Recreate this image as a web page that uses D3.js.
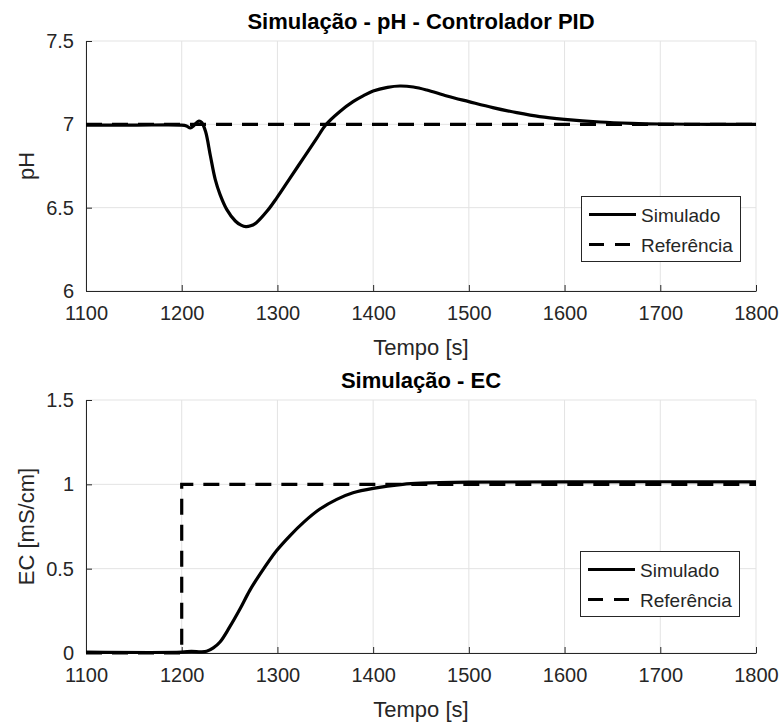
<!DOCTYPE html>
<html>
<head>
<meta charset="utf-8">
<script src="https://cdn.jsdelivr.net/npm/d3@7"></script>
<style>
  body { margin: 0; background: #fff; }
  text { font-family: "Liberation Sans", Arial, sans-serif; }
</style>
</head>
<body>
<script>
// eixo x comum
const xTicks = [1100, 1200, 1300, 1400, 1500, 1600, 1700, 1800];

// pH
const phTime = [1100, 1150, 1200, 1205, 1209, 1213, 1218, 1221, 1225, 1230, 1235, 1240, 1247, 1256, 1262, 1267, 1272, 1278, 1289, 1299, 1313, 1327, 1341, 1351, 1365, 1379, 1390, 1400, 1415, 1428, 1442, 1456, 1477, 1500, 1525, 1550, 1574, 1600, 1637, 1670, 1700, 1750, 1800];
const phSim = [6.995, 6.995, 6.995, 6.99, 6.978, 6.995, 7.02, 7.01, 6.955, 6.81, 6.67, 6.58, 6.49, 6.42, 6.395, 6.386, 6.391, 6.41, 6.478, 6.556, 6.676, 6.796, 6.916, 7.0, 7.076, 7.136, 7.172, 7.2, 7.222, 7.23, 7.224, 7.206, 7.17, 7.136, 7.1, 7.07, 7.046, 7.03, 7.014, 7.006, 7.002, 7.0, 7.0];
const phRefTime = [1100, 1800];
const phRef = [7, 7];
const phTicks = [6, 6.5, 7, 7.5];

// EC
const ecTime = [1100, 1200, 1210, 1220, 1226, 1233, 1240, 1250, 1261, 1271, 1282, 1299, 1313, 1327, 1344, 1362, 1379, 1400, 1431, 1450, 1500, 1600, 1800];
const ecSim = [0.005, 0.005, 0.01, 0.007, 0.01, 0.03, 0.065, 0.153, 0.262, 0.37, 0.469, 0.606, 0.695, 0.773, 0.852, 0.911, 0.95, 0.976, 1.0, 1.007, 1.013, 1.015, 1.015];
const ecRefTime = [1100, 1200, 1200, 1800];
const ecRef = [0, 0, 1, 1];
const ecTicks = [0, 0.5, 1, 1.5];

const legendNames = ['Simulado', 'Referência'];

const svg = d3.select('body').append('svg')
    .attr('width', 780)
    .attr('height', 722);

class LinePlot {

    constructor(config) {
        this.config = config;
        this.init();
    }

    init() {
        let self = this;
        let c = self.config;

        self.g = svg.append('g');

        self.xscale = d3.scaleLinear()
            .domain([1100, 1800])
            .range([c.left, c.right]);

        self.yscale = d3.scaleLinear()
            .domain(d3.extent(c.yTicks))
            .range([c.bottom, c.top]);

        // grade
        self.g.append('g')
            .selectAll('line.gx')
            .data(xTicks)
            .join('line')
            .attr('x1', d => self.xscale(d)).attr('x2', d => self.xscale(d))
            .attr('y1', c.top).attr('y2', c.bottom)
            .attr('stroke', '#e3e3e3').attr('stroke-width', 1);

        self.g.append('g')
            .selectAll('line.gy')
            .data(c.yTicks)
            .join('line')
            .attr('x1', c.left).attr('x2', c.right)
            .attr('y1', d => self.yscale(d)).attr('y2', d => self.yscale(d))
            .attr('stroke', '#e3e3e3').attr('stroke-width', 1);

        const xaxis = d3.axisBottom(self.xscale)
            .tickValues(xTicks)
            .tickSizeInner(-6)
            .tickSizeOuter(0)
            .tickPadding(15)
            .tickFormat(d3.format('d'));

        const yaxis = d3.axisLeft(self.yscale)
            .tickValues(c.yTicks)
            .tickSizeInner(-6)
            .tickSizeOuter(0)
            .tickPadding(12)
            .tickFormat(d3.format('~g'));

        self.g.append('g')
            .attr('transform', 'translate(0,' + c.bottom + ')')
            .call(xaxis)
            .call(g => g.selectAll('text').attr('font-size', 20).attr('fill', '#262626'))
            .call(g => g.selectAll('line,path').attr('stroke', '#262626'));

        self.g.append('g')
            .attr('transform', 'translate(' + c.left + ',0)')
            .call(yaxis)
            .call(g => g.selectAll('text').attr('font-size', 20).attr('fill', '#262626'))
            .call(g => g.selectAll('line,path').attr('stroke', '#262626'));

        self.g.append('text')
            .attr('x', (c.left + c.right) / 2)
            .attr('y', c.top - 12)
            .attr('text-anchor', 'middle')
            .attr('font-size', 22)
            .attr('font-weight', 'bold')
            .attr('fill', '#000')
            .text(c.title);

        self.g.append('text')
            .attr('x', (c.left + c.right) / 2)
            .attr('y', c.bottom + 64)
            .attr('text-anchor', 'middle')
            .attr('font-size', 22)
            .attr('fill', '#262626')
            .text('Tempo [s]');

        self.g.append('text')
            .attr('transform', 'translate(34,' + (c.top + c.bottom) / 2 + ') rotate(-90)')
            .attr('text-anchor', 'middle')
            .attr('font-size', 22)
            .attr('fill', '#262626')
            .text(c.ylabel);

        self.g.append('clipPath')
            .attr('id', c.id)
            .append('rect')
            .attr('x', c.left).attr('y', c.top - 2)
            .attr('width', c.right - c.left).attr('height', c.bottom - c.top + 4);
    }

    render() {
        let self = this;
        let c = self.config;

        const line = d3.line()
            .x(d => self.xscale(d[0]))
            .y(d => self.yscale(d[1]));

        const sim = c.simTime.map((t, i) => [t, c.sim[i]]);
        const ref = c.refTime.map((t, i) => [t, c.ref[i]]);

        const plot = self.g.append('g').attr('clip-path', 'url(#' + c.id + ')');

        plot.append('path')
            .datum(sim)
            .attr('d', line.curve(d3.curveCatmullRom.alpha(0.5)))
            .attr('fill', 'none')
            .attr('stroke', '#000')
            .attr('stroke-width', 3.2)
            .attr('stroke-linejoin', 'round');

        plot.append('path')
            .datum(ref)
            .attr('d', line.curve(d3.curveLinear))
            .attr('fill', 'none')
            .attr('stroke', '#000')
            .attr('stroke-width', 3.2)
            .attr('stroke-dasharray', '16,10');

        // legenda
        const lg = self.g.append('g')
            .attr('transform', 'translate(' + c.legend.x + ',' + c.legend.y + ')');

        lg.append('rect')
            .attr('x', 0.5).attr('y', 0.5)
            .attr('width', 159).attr('height', 65)
            .attr('fill', '#fff')
            .attr('stroke', '#262626')
            .attr('stroke-width', 1);

        lg.selectAll('line.item')
            .data(legendNames)
            .join('line')
            .attr('x1', 8).attr('x2', 55)
            .attr('y1', (d, i) => 18.5 + i * 30).attr('y2', (d, i) => 18.5 + i * 30)
            .attr('stroke', '#000')
            .attr('stroke-width', 3.2)
            .attr('stroke-dasharray', (d, i) => i ? '15,11' : null);

        lg.selectAll('text.item')
            .data(legendNames)
            .join('text')
            .attr('x', 60)
            .attr('y', (d, i) => 25.5 + i * 30)
            .attr('font-size', 19)
            .attr('fill', '#262626')
            .text(d => d);
    }
}

const phPlot = new LinePlot({
    id: 'clip-ph',
    left: 86, right: 756, top: 41, bottom: 291,
    yTicks: phTicks,
    title: 'Simulação - pH - Controlador PID',
    ylabel: 'pH',
    simTime: phTime, sim: phSim,
    refTime: phRefTime, ref: phRef,
    legend: {x: 581, y: 196}
});
phPlot.render();

const ecPlot = new LinePlot({
    id: 'clip-ec',
    left: 86, right: 756, top: 400, bottom: 653,
    yTicks: ecTicks,
    title: 'Simulação - EC',
    ylabel: 'EC [mS/cm]',
    simTime: ecTime, sim: ecSim,
    refTime: ecRefTime, ref: ecRef,
    legend: {x: 580, y: 551}
});
ecPlot.render();
</script>
</body>
</html>
